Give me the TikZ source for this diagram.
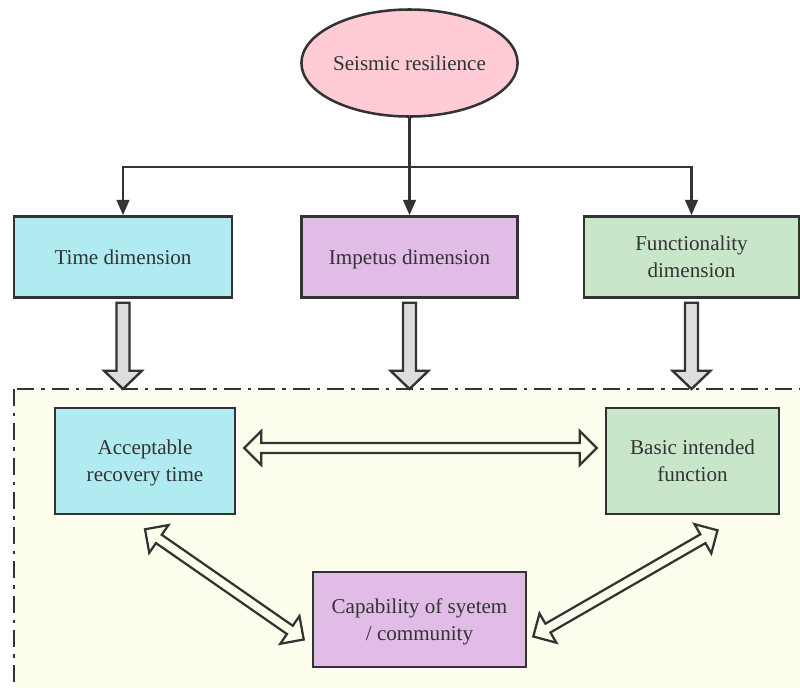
\documentclass[tikz,border=0pt]{standalone}
\usepackage{fontspec}
\setmainfont{Liberation Serif}
\usetikzlibrary{arrows.meta, calc, shapes.geometric}

\definecolor{inkgray}{HTML}{333333}
\definecolor{rootpink}{HTML}{FFCCD5}
\definecolor{timecyan}{HTML}{B0EBF2}
\definecolor{impviolet}{HTML}{E0BCE6}
\definecolor{funcgreen}{HTML}{C8E6CA}
\definecolor{zonecream}{HTML}{FEFEEF}
\definecolor{blockgray}{HTML}{DDDDDD}

\tikzset{
  box/.style={draw=inkgray, line width=1.8pt, text=inkgray, align=center,
    font=\fontsize{15}{19}\selectfont, inner sep=0pt, text depth=-6pt},
  conn/.style={draw=inkgray, line width=1.8pt, -{Triangle[length=11pt, width=9pt]}},
  zone/.style={draw=inkgray, line width=1.7pt, fill=zonecream,
    dash pattern=on 12pt off 5pt on 2.5pt off 5pt},
  grayblock/.style={draw=inkgray, line width=1.7pt, fill=blockgray},
  hollow/.style={draw=inkgray, line width=1.6pt, fill=zonecream},
}

% end points of a block arrow, in pt
\newcommand{\getends}[2]{%
  \path (#1); \pgfgetlastxy{\ax}{\ay}%
  \path (#2); \pgfgetlastxy{\bx}{\by}%
  \pgfmathsetmacro{\arlen}{veclen(\bx-\ax,\by-\ay)}%
  \pgfmathsetmacro{\arang}{atan2(\by-\ay,\bx-\ax)}%
}
\newcommand{\grayarrow}[2]{%
  \getends{#1}{#2}%
  \begin{scope}[shift={(\ax,\ay)}, rotate=\arang, x=1pt, y=1pt]
    \draw[grayblock] (0,-4.6) -- (\arlen-13,-4.6) -- (\arlen-13,-13.5) -- (\arlen,0)
      -- (\arlen-13,13.5) -- (\arlen-13,4.6) -- (0,4.6) -- cycle;
  \end{scope}}
\newcommand{\twowayarrow}[2]{%
  \getends{#1}{#2}%
  \begin{scope}[shift={(\ax,\ay)}, rotate=\arang, x=1pt, y=1pt]
    \draw[hollow] (0,0) -- (12,12) -- (12,3.6) -- (\arlen-12,3.6) -- (\arlen-12,12)
      -- (\arlen,0) -- (\arlen-12,-12) -- (\arlen-12,-3.6) -- (12,-3.6) -- (12,-12) -- cycle;
  \end{scope}}

\begin{document}
\begin{tikzpicture}[x=0.025cm, y=-0.025cm]
    \useasboundingbox (0,0) rectangle (800,687);
    \clip (0,0) rectangle (800,687);

    % Shared zone
    \draw[zone] (14,389) rectangle (830,720);
    \coordinate (zonetop) at (14,389);

    % Root
    \node[box, ellipse, fill=rootpink, minimum width=5.125cm, minimum height=2.675cm]
      (root) at (409.5,63) {Seismic resilience};

    % Dimensions
    \node[box, fill=timecyan, minimum width=5.45cm, minimum height=2.025cm]
      (time) at (123,257) {Time dimension};
    \node[box, fill=impviolet, minimum width=5.4cm, minimum height=2.025cm]
      (imp) at (409.5,257) {Impetus dimension};
    \node[box, fill=funcgreen, minimum width=5.375cm, minimum height=2.025cm]
      (func) at (691.5,257) {Functionality\\dimension};

    % Tree
    \coordinate (split) at (409.5,167);
    \draw[inkgray, line width=1.8pt] (root.south) -- (split);
    \draw[conn] (split) -| (time.north);
    \draw[conn] (split) -- (imp.north);
    \draw[conn] (split) -| (func.north);

    % Into the zone
    \grayarrow{$(time.south)+(0,4)$}{time.south |- zonetop}
    \grayarrow{$(imp.south)+(0,4)$}{imp.south |- zonetop}
    \grayarrow{$(func.south)+(0,4)$}{func.south |- zonetop}

    % Inner boxes
    \node[box, fill=timecyan, minimum width=4.5cm, minimum height=2.65cm]
      (acc) at (145,461) {Acceptable\\recovery time};
    \node[box, fill=funcgreen, minimum width=4.325cm, minimum height=2.65cm]
      (basic) at (692.5,461) {Basic intended\\function};
    \node[box, fill=impviolet, minimum width=5.325cm, minimum height=2.375cm]
      (cap) at (419.5,619.5) {Capability of syetem\\/ community};

    % Two-way links
    \twowayarrow{$(acc.east)+(8,-13)$}{$(basic.west)+(-8,-13)$}
    \twowayarrow{$(acc.south)+(0,14)$}{$(cap.west)+(-8,20)$}
    \twowayarrow{$(cap.east)+(6,17)$}{$(basic.south)+(25,15)$}
\end{tikzpicture}
\end{document}
